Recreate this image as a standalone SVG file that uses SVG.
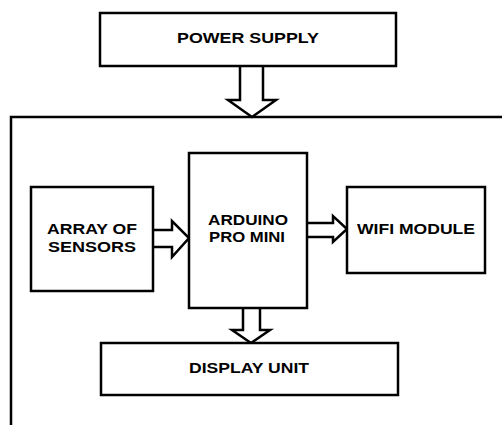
<svg xmlns="http://www.w3.org/2000/svg" width="502" height="425" viewBox="0 0 502 425">
<style>
.box{fill:#fff;stroke:#000;stroke-width:2.5}
.arr{fill:#fff;stroke:#000;stroke-width:2.5;stroke-linejoin:miter}
.lbl{font-family:"Liberation Sans",Arial,sans-serif;font-weight:bold;font-size:15px;fill:#000;text-anchor:middle}
</style>
<rect width="502" height="425" fill="#fff"/>
<g id="frame">
<path d="M11 425 V117 H504" fill="none" stroke="#000" stroke-width="2.5"/>
</g>
<g id="connectors">
<path class="arr" d="M240 66 V100 H228 L252 117 L276 100 H263 V66"/>
<path class="arr" d="M153 230 H172 V221 L189 238 L172 257 V247 H153"/>
<path class="arr" d="M307 223 H333 V216 L347 229 L333 242 V237 H307"/>
<path class="arr" d="M243 308 V330 H232 L251 343 L270 330 H260 V308"/>
</g>
<g id="power-supply">
<rect class="box" x="100" y="13" width="296" height="53"/>
<text class="lbl" x="248" y="43" textLength="142" lengthAdjust="spacingAndGlyphs">POWER SUPPLY</text>
</g>
<g id="array-of-sensors">
<rect class="box" x="31" y="187" width="122" height="104"/>
<text class="lbl" x="92" y="234" textLength="90" lengthAdjust="spacingAndGlyphs">ARRAY OF</text>
<text class="lbl" x="92" y="252" textLength="88" lengthAdjust="spacingAndGlyphs">SENSORS</text>
</g>
<g id="arduino-pro-mini">
<rect class="box" x="189" y="153" width="118" height="155"/>
<text class="lbl" x="248" y="225" textLength="80" lengthAdjust="spacingAndGlyphs">ARDUINO</text>
<text class="lbl" x="247" y="242" textLength="76" lengthAdjust="spacingAndGlyphs">PRO MINI</text>
</g>
<g id="wifi-module">
<rect class="box" x="347" y="187" width="138" height="86"/>
<text class="lbl" x="416" y="234" textLength="118" lengthAdjust="spacingAndGlyphs">WIFI MODULE</text>
</g>
<g id="display-unit">
<rect class="box" x="101" y="343" width="297" height="52"/>
<text class="lbl" x="249" y="373" textLength="120" lengthAdjust="spacingAndGlyphs">DISPLAY UNIT</text>
</g>
</svg>
